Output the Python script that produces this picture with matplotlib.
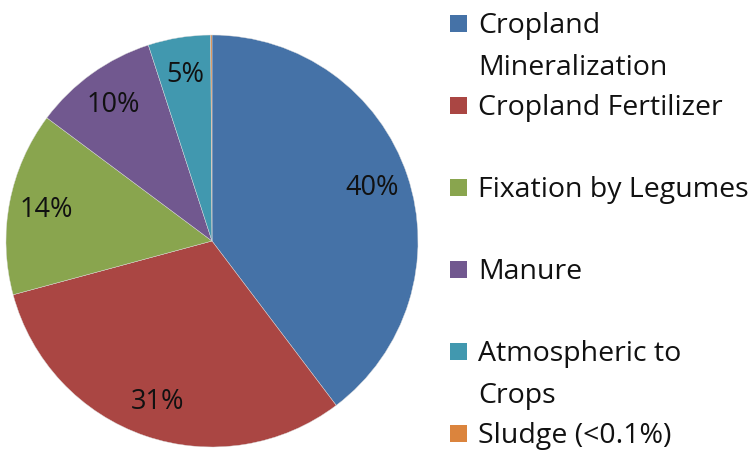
import matplotlib
matplotlib.use('Agg')
import matplotlib.pyplot as plt
from matplotlib.patches import Rectangle
import numpy as np

# share of nitrogen inputs by source (%)
sources = ['Cropland\nMineralization', 'Cropland Fertilizer', 'Fixation by Legumes',
           'Manure', 'Atmospheric to\nCrops', 'Sludge (<0.1%)']
shares = [39.7, 31.1, 14.4, 9.8, 4.9, 0.1]
pct_labels = ['40%', '31%', '14%', '10%', '5%', '']
colors = ['#4572A7', '#AA4643', '#89A54E', '#71588F', '#4198AF', '#DB843D']

plt.rcParams['font.family'] = ['Open Sans', 'DejaVu Sans']

W, H = 754, 452
fig = plt.figure(figsize=(W / 100, H / 100), dpi=100)

# pie: centre (212, 242) px, radius 206 px
cx, cy, r = 212, 242, 206
ax = fig.add_axes([(cx - r) / W, (H - cy - r) / H, 2 * r / W, 2 * r / H])
wedges, _ = ax.pie(shares, colors=colors, startangle=90, counterclock=False,
                   radius=1, wedgeprops=dict(linewidth=0.3, edgecolor='#dcdcdc'))
for w, lab in zip(wedges, pct_labels):
    if not lab:
        continue
    ang = np.deg2rad((w.theta1 + w.theta2) / 2)
    ax.text(0.82 * np.cos(ang), 0.82 * np.sin(ang), lab, ha='center', va='center',
            fontsize=19.5, color='#111111')
ax.set_xlim(-1, 1)
ax.set_ylim(-1, 1)
ax.set_aspect('equal')
ax.axis('off')

# legend drawn by hand, first-line baselines in px
lax = fig.add_axes([0, 0, 1, 1])
lax.set_xlim(0, W)
lax.set_ylim(H, 0)
lax.axis('off')
base0, slot, line_h = 33, 82, 42
for i, (lab, c) in enumerate(zip(sources, colors)):
    b = base0 + i * slot
    lax.add_patch(Rectangle((450, b - 17), 17, 17, facecolor=c, edgecolor='none'))
    for j, part in enumerate(lab.split('\n')):
        lax.text(478, b + j * line_h, part, ha='left', va='baseline',
                 fontsize=20.5, color='#111111')

fig.savefig('out.png', dpi=100)
